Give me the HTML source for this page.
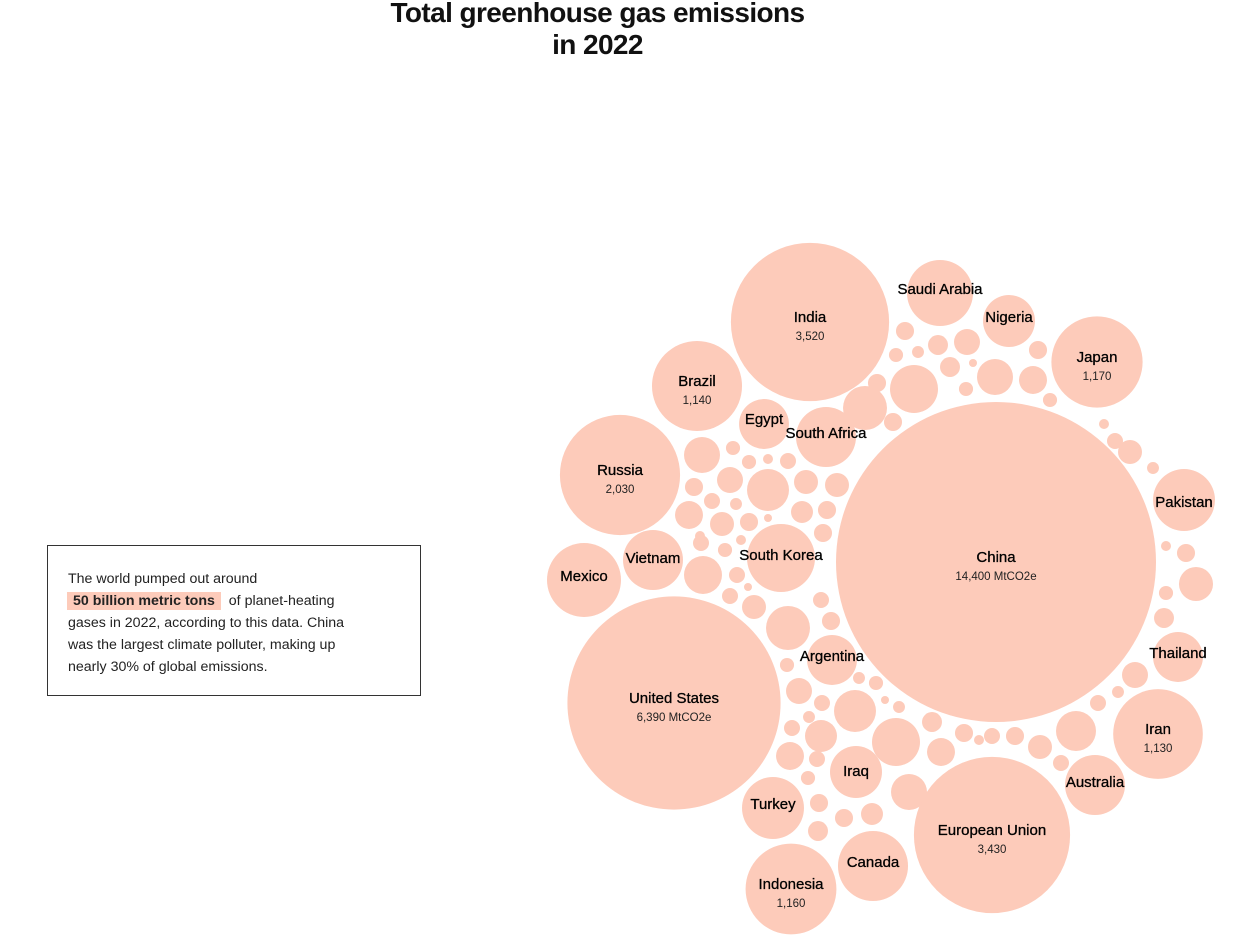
<!DOCTYPE html>
<html><head><meta charset="utf-8">
<style>
body{margin:0;width:1253px;height:949px;background:#fff;font-family:"Liberation Sans",sans-serif;overflow:hidden;position:relative}
#title{position:absolute;left:0;width:1195px;top:-3px;text-align:center;font-size:28px;font-weight:bold;line-height:32px;color:#111;letter-spacing:-0.6px}
#note{position:absolute;left:47px;top:545px;width:374px;height:151px;border:1px solid #333;box-sizing:border-box;padding:22px 36px 22px 20px;font-size:14.2px;line-height:22px;color:#222}
#note b{background:#fdcbba;padding:1px 6px;margin-left:-1px}
svg{position:absolute;left:0;top:0}
</style></head><body>
<div id="title">Total greenhouse gas emissions<br>in 2022</div>
<div id="note">The world pumped out around<br><b>50 billion metric tons</b> &nbsp;of planet-heating<br>gases in 2022, according to this data. China<br>was the largest climate polluter, making up<br>nearly 30% of global emissions.</div>
<svg id="chart" width="1253" height="949"></svg>
<script>
// Named countries (values in MtCO2e)
const names = ["China","United States","India","European Union","Russia","Japan","Indonesia","Brazil","Iran","Saudi Arabia","Nigeria","Pakistan","Thailand","Australia","Canada","Turkey","Iraq","Argentina","South Korea","Vietnam","Mexico","Egypt","South Africa"];
const values = [14400,6390,3520,3430,2030,1170,1160,1140,1130,613,380,540,350,506,690,540,380,350,650,506,770,350,506];
const valueLabels = ["14,400 MtCO2e","6,390 MtCO2e","3,520","3,430","2,030","1,170","1,160","1,140","1,130","","","","","","","","","","","","","",""];
// Layout (pack positions)
const layoutX = [996,674,810,992,620,1097,791,697,1158,940,1009,1184,1178,1095,873,773,856,832,781,653,584,764,826];
const layoutY = [562,703,322,835,475,362,889,386,734,293,321,500,657,785,866,808,772,660,558,560,580,424,437];
const labelDY = [0,0,0,0,0,0,0,0,0,-5,-5,1,-5,-4,-5,-5,-2,-5,-4,-3,-5,-6,-5];
// Smaller unlabelled countries
const smallValues = [182,28,28,14,36,95,248,81,81,46,36,20,110,81,46,9,68,46,46,14,36,28,14,203,36,9,36,81,272,46,36,
 28,95,20,28,36,248,9,20,36,144,20,324,56,46,36,46,81,225,110,14,36,110,28,36,182,46,46,68,56,
 46,28,20,56,95,324,56,9,182,28,46,110,28,46,272,46,14,36,81,20,14,46,163,28,56,95,20,36];
const smallX = [702,733,749,768,788,730,768,806,837,694,712,736,689,722,749,768,802,827,823,700,701,725,741,703,737,748,730,754,788,831,821,
 787,799,859,876,822,855,885,899,792,821,809,896,932,964,992,1015,1040,1076,941,979,1061,790,808,817,909,819,844,872,818,
 905,896,918,938,967,914,950,973,995,966,1038,1033,1050,877,865,893,1104,1115,1130,1153,1166,1186,1196,1166,1164,1135,1118,1098];
const smallY = [455,448,462,459,461,480,490,482,485,487,501,504,515,524,522,518,512,510,533,536,543,550,540,575,575,587,596,607,628,621,600,
 665,691,678,683,703,711,700,707,728,736,717,742,722,733,736,736,747,731,752,740,763,756,778,759,792,803,818,814,831,
 331,355,352,345,342,389,367,363,377,389,350,380,400,383,408,422,424,441,452,468,546,553,584,593,618,675,692,703];

const K = 160/Math.sqrt(14400);
function rScale(v){return K*Math.sqrt(v);}
const NS="http://www.w3.org/2000/svg";
const svg=document.getElementById('chart');
const fill="#fdcbba";
for(let i=0;i<smallValues.length;i++){
  const c=document.createElementNS(NS,'circle');
  c.setAttribute('cx',smallX[i]);c.setAttribute('cy',smallY[i]);c.setAttribute('r',rScale(smallValues[i]));c.setAttribute('fill',fill);
  
  
  svg.appendChild(c);
}
for(let i=0;i<names.length;i++){
  const c=document.createElementNS(NS,'circle');
  c.setAttribute('cx',layoutX[i]);c.setAttribute('cy',layoutY[i]);c.setAttribute('r',rScale(values[i]));c.setAttribute('fill',fill);
  
  
  svg.appendChild(c);
}
for(let i=0;i<names.length;i++){
  const hasVal=valueLabels[i]!=="";
  const t=document.createElementNS(NS,'text');
  t.setAttribute('x',layoutX[i]);t.setAttribute('y',layoutY[i]+(hasVal?0:6)+labelDY[i]);
  t.setAttribute('text-anchor','middle');t.setAttribute('font-size','15');t.setAttribute('fill','#000');
  t.setAttribute('font-family','Liberation Sans, sans-serif');
  t.setAttribute('stroke','#000');t.setAttribute('stroke-width','0.3');
  t.textContent=names[i];
  
  
  svg.appendChild(t);
  if(hasVal){
    const v=document.createElementNS(NS,'text');
    v.setAttribute('x',layoutX[i]);v.setAttribute('y',layoutY[i]+18);
    v.setAttribute('text-anchor','middle');v.setAttribute('font-size','11.5');v.setAttribute('fill','#222');
    v.setAttribute('font-family','Liberation Sans, sans-serif');
    v.textContent=valueLabels[i];
    
    
    svg.appendChild(v);
  }
}
</script>
</body></html>
